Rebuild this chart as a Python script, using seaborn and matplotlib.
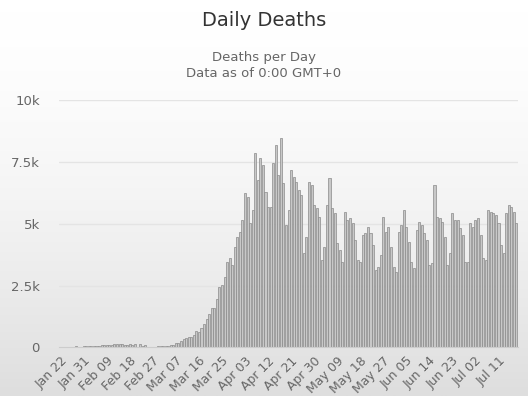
import numpy as np
import pandas as pd
import matplotlib
matplotlib.use("Agg")
import matplotlib.pyplot as plt
import seaborn as sns

# Daily deaths, one value per day starting Jan 22
start_date = "2020-01-22"
deaths = [
    # Jan 22 - Feb 03
    17, 1, 8, 16, 14, 26, 49, 2, 38, 42, 46, 45, 57,
    # Feb 04 - Feb 24
    65, 73, 73, 86, 89, 97, 108, 97, 146, 121, 143, 142, 105, 98, 139, 115, 125, 40, 140, 60, 120,
    # Feb 25 - Feb 28
    15, 12, 20, 18,
    # Feb 29 - Mar 06
    55, 65, 70, 75, 80, 90, 100,
    # Mar 07 - Mar 16
    170, 200, 280, 330, 370, 440, 420, 500, 680, 640,
    # Mar 17 - Mar 26
    800, 950, 1150, 1350, 1580, 1600, 1950, 2460, 2520, 2860,
    # Mar 27 - Apr 02
    3470, 3600, 3330, 4070, 4480, 4680, 5150,
    # Apr 03 - Apr 13
    6230, 6090, 5020, 5560, 7850, 6770, 7640, 7370, 6300, 5690, 5690,
    # Apr 14 - Apr 26
    7440, 8180, 6970, 8450, 6630, 4950, 5560, 7170, 6900, 6700, 6360, 6160, 3800,
    # Apr 27 - May 17
    4480, 6700, 6570, 5760, 5620, 5290, 3540, 4070, 5760, 6830, 5620, 5420, 4210, 3940,
    3470, 5490, 5150, 5220, 5020, 4340, 3540,
    # May 18 - Jul 18
    3470, 4550, 4620, 4880, 4620, 4150, 3130, 3270, 3740, 5290, 4680, 4880, 4070, 3270,
    3060, 4680, 4950, 5560, 4880, 4280, 3470, 3200, 4750, 5090, 4950, 4620, 4340, 3330,
    3400, 6570, 5290, 5220, 5090, 4480, 3330, 3800, 5420, 5150, 5150, 4820, 4550, 3470,
    3470, 5020, 4880, 5150, 5220, 4550, 3600, 3540, 5560, 5490, 5420, 5350, 5020, 4150,
    3800, 5420, 5760, 5690, 5490, 5020,
]
tick_every = 9
y_ticks = [0, 2500, 5000, 7500, 10000]
y_tick_labels = ["0", "2.5k", "5k", "7.5k", "10k"]

dates = pd.date_range(start_date, periods=len(deaths), freq="D")
df = pd.DataFrame({"date": dates.strftime("%b %d"), "deaths": deaths})

sns.set_style("white")
plt.rcParams["font.family"] = ["DejaVu Sans"]

fig = plt.figure(figsize=(5.28, 3.96), dpi=100)

# soft white -> grey backdrop like the screenshot
bg = fig.add_axes([0, 0, 1, 1], zorder=-1)
grad = np.linspace(0, 1, 256).reshape(-1, 1)
bg.imshow(grad ** 1.6, aspect="auto", cmap=plt.matplotlib.colors.LinearSegmentedColormap.from_list(
    "bgc", ["#ffffff", "#dedede"]), extent=[0, 1, 0, 1], origin="upper")
bg.axis("off")

ax = fig.add_axes([0.112, 0.1225, 0.869, 0.625])
ax.set_facecolor("none")

sns.barplot(data=df, x="date", y="deaths", color="#c8c8c8", edgecolor="#8a8a8a",
            linewidth=0.5, width=0.8, saturation=1, ax=ax, zorder=2)

ax.set_ylim(0, 10000)
ax.set_xlim(-0.6, len(deaths) - 0.4)
ax.set_yticks(y_ticks)
ax.set_yticklabels(y_tick_labels, fontsize=9.5, color="#666666")
ax.yaxis.grid(True, color="#e4e4e4", linewidth=1, zorder=0)
ax.set_axisbelow(True)

pos = list(range(0, len(deaths), tick_every))
pos = [p for p in pos if p <= 171]
ax.set_xticks(pos)
ax.set_xticklabels(df["date"].iloc[pos], rotation=45, ha="right", rotation_mode="anchor",
                   fontsize=9, color="#666666")
ax.tick_params(axis="x", length=0, pad=5)
ax.tick_params(axis="y", length=0, pad=14)
ax.set_xlabel("")
ax.set_ylabel("")

for s in ["top", "right", "left"]:
    ax.spines[s].set_visible(False)
ax.spines["bottom"].set_color("#cccccc")

fig.text(0.5, 0.948, "Daily Deaths", ha="center", va="center", fontsize=14, color="#333333")
fig.text(0.5, 0.856, "Deaths per Day", ha="center", va="center", fontsize=9.5, color="#666666")
fig.text(0.5, 0.815, "Data as of 0:00 GMT+0", ha="center", va="center", fontsize=9.5, color="#666666")

fig.savefig("out.png", dpi=100)
